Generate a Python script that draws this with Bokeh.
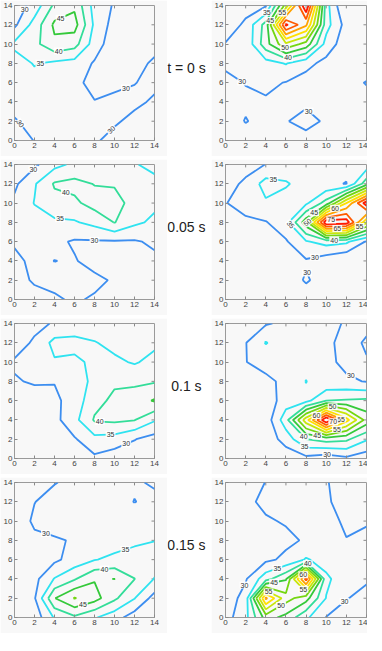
import numpy as np
import contourpy
from bokeh.plotting import figure
from bokeh.layouts import row, column
from bokeh.models import FixedTicker, Range1d
from bokeh.embed import file_html
from bokeh.resources import INLINE
from bokeh.core.properties import value

# ---------------- data ----------------
GRID = [0, 2, 4, 6, 8, 10, 12, 14]          # x and y sample positions
TICKS = [0, 2, 4, 6, 8, 10, 12, 14]
LEVELS = [30, 35, 40, 45, 50, 55, 60, 65, 70, 75, 80]
LEVEL_COLORS = ["#3d8ef0", "#2fe3f0", "#33dd99", "#35c93a", "#74d611", "#c8e60a",
                "#ffe000", "#ffa200", "#ff5a00", "#ff1a00", "#d00000"]
TIME_LABELS = ["t = 0 s", "0.05 s", "0.1 s", "0.15 s"]

# values on the grid, rows from y = 14 (top) down to y = 0
Z_T0_LEFT = [
    [27, 32, 41, 44, 33, 29.5, 26, 26],
    [29, 37, 46, 47, 34, 28, 26, 26.5],
    [36, 38.5, 44, 42, 32.5, 27, 27, 28],
    [33, 35.3, 34, 33, 29.5, 28, 28, 31],
    [32.5, 33.5, 32.5, 32, 27.5, 28.5, 29.8, 31.5],
    [32, 32.5, 32, 31.5, 30.3, 31.5, 31.5, 29],
    [29.5, 32, 32, 31.5, 31.5, 31, 28, 27.5],
    [27, 30.2, 31, 31.5, 31, 27.5, 26.5, 26],
]
Z_T0_RIGHT = [
    [27, 28, 29.5, 52, 80, 37, 24, 24],
    [27, 31, 42, 76, 66, 37, 28, 26],
    [30.3, 31, 43, 54, 48, 33, 27, 26],
    [31, 32.5, 33, 35.3, 31.5, 28.5, 27, 26],
    [28.5, 30.2, 31, 29.8, 28, 27, 27.5, 30.4],
    [27.5, 29, 29.5, 28, 29, 28, 27, 27.5],
    [27, 30.3, 28, 29.7, 31.8, 29.2, 27, 26],
    [26, 27, 27, 28, 28, 27.5, 26, 25],
]
Z_T1_LEFT = [
    [27, 29, 33.5, 36, 37, 37, 35.5, 33],
    [29, 34.5, 40.5, 41.5, 39.8, 39.5, 37, 37],
    [31, 35.2, 38.5, 39, 42, 42, 38, 36],
    [32.5, 33, 34, 34.5, 36.5, 40.2, 36, 34],
    [30.5, 31.5, 31, 29.5, 29.5, 29.5, 29.5, 30.8],
    [29, 31, 29.95, 30.3, 28.5, 28, 28, 29],
    [28.5, 30.5, 31, 31.5, 31, 29.5, 28, 28],
    [27, 28.5, 29.5, 30.5, 29.5, 28, 27.5, 27.5],
]
Z_T1_RIGHT = [
    [27, 28, 30.1, 32, 32, 32, 31.5, 32],
    [28, 31, 37, 35.5, 33, 31, 29.8, 43],
    [29.9, 31, 34.3, 33, 34, 42, 60, 78],
    [28.5, 29.5, 29.7, 33, 48, 79, 78, 56],
    [27, 27.5, 28, 29.5, 34.5, 37, 36, 29.5],
    [26, 26.5, 27, 28, 29.5, 27, 25, 25],
    [25, 25.5, 26, 27.5, 30.5, 28, 25, 24],
    [24, 24.5, 25, 26, 27.5, 26.5, 24, 23],
]
Z_T2_LEFT = [
    [27, 28.5, 30.5, 32, 32, 31.5, 31, 31],
    [27.5, 30.8, 36.5, 36.5, 35.3, 33.5, 32, 34],
    [30.6, 31.5, 34.5, 34, 36, 36, 34.5, 36.5],
    [29.6, 30.5, 30.2, 33, 36, 39.3, 39, 39.5],
    [27, 28, 29, 32, 38.5, 41, 42.5, 45.5],
    [26, 26.5, 28.5, 33.5, 40.5, 41, 40.2, 35.5],
    [25.5, 26, 27, 29.5, 33.5, 33, 30.2, 28],
    [25, 25.5, 26, 27.5, 29, 27, 27, 27],
]
Z_T2_RIGHT = [
    [27, 28, 29.5, 31, 31.5, 31.5, 29.5, 29],
    [27, 29.8, 35.3, 32, 32, 31, 28.5, 30.5],
    [27, 29.9, 31.5, 32, 33, 31.5, 28.5, 29.7],
    [27, 28, 29, 31, 35.15, 31, 31, 29.7],
    [26.5, 27, 27, 32.5, 33.5, 40, 40.5, 41],
    [26, 26.5, 27, 38, 58, 80, 62, 48],
    [25.5, 26, 27, 32, 40, 42, 41, 35.5],
    [25, 25.5, 26, 27, 28.5, 27, 29, 27],
]
Z_T3_LEFT = [
    [26, 27.5, 29.8, 31, 31.5, 31, 30.5, 29.5],
    [26.5, 29.9, 31.5, 32, 32, 31.5, 29.9, 31],
    [27, 30.8, 31.5, 32, 32.5, 32.5, 32, 32.5],
    [27, 29, 29.6, 30.3, 32, 33, 34.3, 34.9],
    [26.5, 27.5, 29, 32, 34.8, 36, 36.5, 37],
    [26, 28.5, 35.3, 39.5, 44.6, 45.05, 40.1, 34.8],
    [26, 29.5, 44.8, 50.3, 47, 41, 35.2, 28],
    [25.5, 27, 35.5, 39, 35.5, 32, 27.5, 26],
]
Z_T3_RIGHT = [
    [26.5, 28, 30.1, 31, 31.5, 30.3, 28, 27.5],
    [26.5, 29, 31, 31.5, 31.5, 30.5, 28.5, 28],
    [27, 28.5, 29.5, 30.4, 31, 31, 29.5, 29.8],
    [27, 28, 28.5, 29, 30.5, 31.5, 30.1, 30.5],
    [27, 28, 29, 31, 35.5, 33, 32, 31.5],
    [27, 29.5, 38, 44.5, 72, 36, 32, 30.8],
    [27, 32, 66, 52, 47, 34.8, 30.3, 28],
    [28, 33.5, 47, 43.5, 36, 29.8, 27, 26.5],
]

# contour-label hints: (level, near x, near y, follow line direction)
LAB_T0_LEFT = [(30, 1.3, 13.5, 0), (45, 4.6, 12.7, 0), (40, 4.4, 9.4, 0), (35, 2.6, 7.9, 0),
               (30, 11.0, 5.8, 0), (30, 0.5, 1.7, 1), (30, 9.8, 1.0, 1)]
LAB_T0_RIGHT = [(35, 4.1, 13.3, 0), (45, 4.5, 12.4, 0), (55, 6.1, 12.9, 0), (50, 5.9, 9.6, 0),
                (40, 6.2, 8.6, 0), (30, 1.6, 6.0, 0), (30, 8.1, 2.9, 0)]
LAB_T1_LEFT = [(30, 2.1, 13.3, 0), (40, 5.1, 11.0, 0), (35, 4.6, 8.8, 0), (30, 8.0, 6.2, 0)]
LAB_T1_RIGHT = [(35, 4.8, 12.8, 0), (45, 8.8, 9.0, 0), (60, 11.1, 9.0, 0), (35, 6.5, 7.8, 1),
                (50, 7.6, 7.5, 1), (75, 10.5, 8.2, 0), (65, 11.1, 7.4, 0), (55, 13.2, 7.8, 0),
                (40, 10.8, 6.0, 0), (30, 8.9, 4.3, 0), (30, 8.2, 2.8, 0)]
LAB_T2_LEFT = [(40, 8.5, 3.4, 0), (35, 9.6, 2.7, 0), (30, 11.0, 1.9, 0)]
LAB_T2_RIGHT = [(30, 12.1, 7.9, 0), (50, 10.6, 5.2, 0), (60, 8.9, 4.7, 0), (65, 11.6, 4.4, 0),
                (70, 10.75, 3.7, 0), (55, 11.1, 2.9, 0), (40, 7.6, 2.1, 0), (45, 9.1, 2.3, 0),
                (35, 7.9, 1.3, 0), (30, 10.1, 0.5, 0)]
LAB_T3_LEFT = [(30, 3.1, 8.6, 0), (35, 11.0, 7.3, 0), (40, 9.0, 4.9, 0), (45, 6.9, 1.1, 0)]
LAB_T3_RIGHT = [(35, 5.1, 5.2, 0), (40, 8.2, 5.6, 0), (45, 4.8, 3.8, 0), (60, 7.9, 4.2, 0),
                (55, 4.45, 3.0, 0), (55, 7.8, 3.0, 0), (50, 5.6, 1.1, 0), (30, 2.0, 3.3, 0),
                (30, 11.7, 1.8, 0)]

PANELS = [
    (Z_T0_LEFT, LAB_T0_LEFT, Z_T0_RIGHT, LAB_T0_RIGHT),
    (Z_T1_LEFT, LAB_T1_LEFT, Z_T1_RIGHT, LAB_T1_RIGHT),
    (Z_T2_LEFT, LAB_T2_LEFT, Z_T2_RIGHT, LAB_T2_RIGHT),
    (Z_T3_LEFT, LAB_T3_LEFT, Z_T3_RIGHT, LAB_T3_RIGHT),
]

BG = "#f8f8f8"
FONT = "Liberation Sans"
TICK_LEN = 0.3   # inward tick length on the mirrored (top / right) sides, in data units


def snap_label(gen, lev, hx, hy):
    best = None
    for ln in gen.lines(lev):
        if len(ln) < 2:
            continue
        a = ln[:-1]
        ab = ln[1:] - a
        l2 = (ab ** 2).sum(axis=1)
        l2[l2 == 0] = 1e-12
        t = np.clip(((hx - a[:, 0]) * ab[:, 0] + (hy - a[:, 1]) * ab[:, 1]) / l2, 0, 1)
        px = a[:, 0] + t * ab[:, 0]
        py = a[:, 1] + t * ab[:, 1]
        d = (px - hx) ** 2 + (py - hy) ** 2
        i = int(np.argmin(d))
        if best is None or d[i] < best[0]:
            ang = float(np.arctan2(ab[i, 1] * 9.7, ab[i, 0] * 10.0))
            if ang > np.pi / 2:
                ang -= np.pi
            if ang < -np.pi / 2:
                ang += np.pi
            best = (d[i], float(px[i]), float(py[i]), ang)
    return best


def panel(z_rows, hints, border_left, border_right, frame_w):
    z = np.array(z_rows, dtype=float)[::-1]
    p = figure(frame_width=frame_w, frame_height=135,
               x_range=Range1d(0, 14), y_range=Range1d(0, 14),
               toolbar_location=None, output_backend="svg",
               min_border_left=border_left, min_border_right=border_right,
               min_border_top=5, min_border_bottom=16,
               background_fill_color=BG, border_fill_color=BG,
               outline_line_color="#9a9a9a")
    p.xgrid.visible = False
    p.ygrid.visible = False
    for ax in p.axis:
        ax.ticker = FixedTicker(ticks=TICKS)
        ax.major_tick_in = 3
        ax.major_tick_out = 0
        ax.minor_tick_line_color = None
        ax.axis_line_color = "#9a9a9a"
        ax.major_tick_line_color = "#8a8a8a"
        ax.major_label_text_font_size = "8px"
        ax.major_label_text_font = FONT
        ax.major_label_text_color = "#444444"
        ax.major_label_standoff = 2

    # mirrored inward ticks on the top and right edges
    inner = TICKS[1:-1]
    top = 14
    p.segment(x0=inner, y0=[top] * len(inner), x1=inner, y1=[top - TICK_LEN] * len(inner),
              line_color="#8a8a8a", line_width=1)
    p.segment(x0=[top] * len(inner), y0=inner, x1=[top - TICK_LEN] * len(inner), y1=inner,
              line_color="#8a8a8a", line_width=1)

    p.contour(GRID, GRID, z, LEVELS, line_color=LEVEL_COLORS, line_width=1.8)

    gen = contourpy.contour_generator(np.array(GRID, float), np.array(GRID, float), z)
    lx, ly, lt, la = [], [], [], []
    for lev, hx, hy, rot in hints:
        res = snap_label(gen, lev, hx, hy)
        if res is None:
            continue
        lx.append(res[1])
        ly.append(res[2])
        lt.append(str(lev))
        la.append(res[3] if rot else 0.0)
    if lx:
        p.text(x=lx, y=ly, text=lt, angle=la, text_font=value(FONT),
               text_font_size="7px", text_align="center", text_baseline="middle",
               text_color="#333333", background_fill_color="white",
               background_fill_alpha=0.9, padding=1)
    return p


def time_label(txt):
    m = figure(width=44, height=156, x_range=Range1d(0, 1), y_range=Range1d(0, 1),
               toolbar_location=None, output_backend="svg", min_border=0,
               x_axis_type=None, y_axis_type=None, outline_line_color=None,
               background_fill_color="white", border_fill_color="white")
    m.grid.visible = False
    m.text(x=[0.43], y=[0.535], text=[txt], text_font=value(FONT), text_font_size="14px",
           text_align="center", text_baseline="middle", text_color="#222222")
    return m


rows = []
for (zl, hl, zr, hr), tl in zip(PANELS, TIME_LABELS):
    left = panel(zl, hl, 14, 13, 140)
    right = panel(zr, hr, 12, 1, 141)
    rows.append(row(left, time_label(tl), right, spacing=0))

layout = column(*rows, spacing=3)

open("out.html", "w").write(file_html(layout, INLINE))
